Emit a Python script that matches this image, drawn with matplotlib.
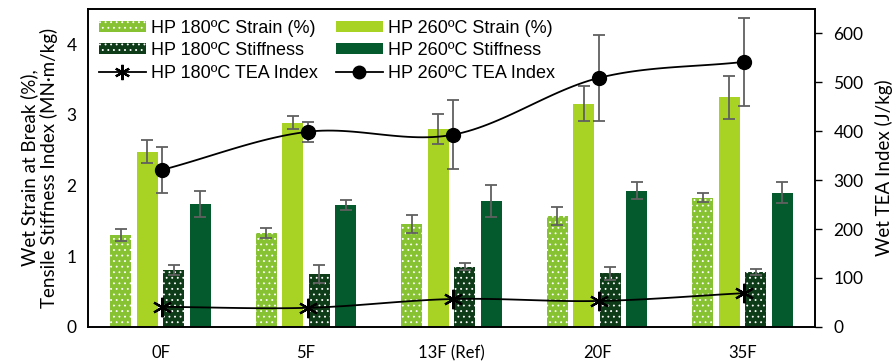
import numpy as np
import matplotlib
matplotlib.use("Agg")
import matplotlib.pyplot as plt
from matplotlib.lines import Line2D

# data
samples = ['0F', '5F', '13F (Ref)', '20F', '35F']
strain_180 = [1.30, 1.33, 1.46, 1.57, 1.83]
strain_180_err = [0.08, 0.07, 0.13, 0.13, 0.06]
strain_260 = [2.48, 2.89, 2.80, 3.16, 3.25]
strain_260_err = [0.16, 0.09, 0.21, 0.25, 0.30]
stiff_180 = [0.81, 0.75, 0.85, 0.76, 0.78]
stiff_180_err = [0.07, 0.13, 0.05, 0.09, 0.04]
stiff_260 = [1.74, 1.73, 1.78, 1.93, 1.90]
stiff_260_err = [0.18, 0.07, 0.23, 0.12, 0.15]
tea_180 = [41, 39, 57, 53, 69]
tea_260 = [321, 399, 393, 509, 542]
tea_260_err = [47, 20, 70, 87, 90]

c_s180 = '#86c232'
c_s260 = '#a8d325'
c_k180 = '#0e3b18'
c_k260 = '#045a2c'
err_kw = dict(ecolor='#606060', elinewidth=1.3, capsize=4, capthick=1.3)


def smooth(xp, yp, n=30):
    # catmull-rom curve through the points, like Excel's smoothed line
    P = np.column_stack([np.asarray(xp, float), np.asarray(yp, float)])
    P = np.vstack([P[0] - (P[1] - P[0]), P, P[-1] + (P[-1] - P[-2])])
    out = []
    t = np.linspace(0, 1, n)[:, None]
    for i in range(1, len(P) - 2):
        p0, p1, p2, p3 = P[i - 1], P[i], P[i + 1], P[i + 2]
        seg = 0.5 * ((2 * p1) + (-p0 + p2) * t + (2 * p0 - 5 * p1 + 4 * p2 - p3) * t ** 2
                     + (-p0 + 3 * p1 - 3 * p2 + p3) * t ** 3)
        out.append(seg)
    out = np.vstack(out)
    return out[:, 0], out[:, 1]


plt.rcParams['font.family'] = ['Lato', 'DejaVu Sans']
plt.rcParams['hatch.linewidth'] = 0.6

fig = plt.figure(figsize=(8.96, 3.62), dpi=100)
ax = fig.add_axes([0.098, 0.097, 0.812, 0.878])
ax2 = ax.twinx()

x = np.arange(len(samples))
w = 0.145
d = 0.182

b1 = ax.bar(x - 1.5 * d, strain_180, w, color=c_s180, edgecolor='white', linewidth=0,
            hatch='...', yerr=strain_180_err, error_kw=err_kw, label='HP 180ºC Strain (%)')
b2 = ax.bar(x - 0.5 * d, strain_260, w, color=c_s260, yerr=strain_260_err,
            error_kw=err_kw, label='HP 260ºC Strain (%)')
b3 = ax.bar(x + 0.5 * d, stiff_180, w, color=c_k180, edgecolor='white', linewidth=0,
            hatch='...', yerr=stiff_180_err, error_kw=err_kw, label='HP 180ºC Stiffness')
b4 = ax.bar(x + 1.5 * d, stiff_260, w, color=c_k260, yerr=stiff_260_err,
            error_kw=err_kw, label='HP 260ºC Stiffness')

xs = x + 0.01
sx, sy = smooth(xs, tea_180)
ax2.plot(sx, sy, color='black', lw=1.3, zorder=3)
ax2.plot(xs, tea_180, ls='none', color='black', marker=(6, 2, 0),
         markersize=14, markeredgewidth=1.6)
sx, sy = smooth(xs, tea_260)
ax2.plot(sx, sy, color='black', lw=1.3, zorder=3)
ax2.errorbar(xs, tea_260, yerr=tea_260_err, fmt='none', **err_kw)
ax2.plot(xs, tea_260, ls='none', color='black', marker='o', markersize=10)

ax.set_xlim(-0.5, len(samples) - 0.5)
ax.set_ylim(0, 4.5)
ax2.set_ylim(0, 650)
ax.set_yticks([0, 1, 2, 3, 4])
ax2.set_yticks(range(0, 601, 100))
ax.set_xticks(x)
ax.set_xticklabels(samples)
ax.tick_params(axis='x', length=0, pad=13, labelsize=12)
ax.tick_params(axis='y', length=0, pad=8, labelsize=12.5)
ax2.tick_params(axis='y', direction='out', length=5, width=1, pad=8, labelsize=12.5)
for a in (ax, ax2):
    for s in a.spines.values():
        s.set_linewidth(1.2)
ax.set_ylabel('Wet Strain at Break (%),\nTensile Stiffness Index (MN·m/kg)', fontsize=13.5,
              linespacing=1.15, labelpad=6)
ax2.set_ylabel('Wet TEA Index (J/kg)', fontsize=13.5, labelpad=8)

h_tea180 = Line2D([], [], color='black', lw=1.3, marker=(6, 2, 0), markersize=11,
                  markeredgewidth=1.6)
h_tea260 = Line2D([], [], color='black', lw=1.3, marker='o', markersize=9)
handles = [b1, b3, h_tea180, b2, b4, h_tea260]
labels = ['HP 180ºC Strain (%)', 'HP 180ºC Stiffness', 'HP 180ºC TEA Index',
          'HP 260ºC Strain (%)', 'HP 260ºC Stiffness', 'HP 260ºC TEA Index']
ax2.legend(handles, labels, ncol=2, loc='upper left', bbox_to_anchor=(0.0, 1.0),
           frameon=False, prop={'family': 'Liberation Sans', 'size': 13},
           handlelength=2.6, handleheight=0.55, handletextpad=0.3,
           columnspacing=1.0, labelspacing=0.3, borderaxespad=0.2)

fig.savefig('out.png', dpi=100)
